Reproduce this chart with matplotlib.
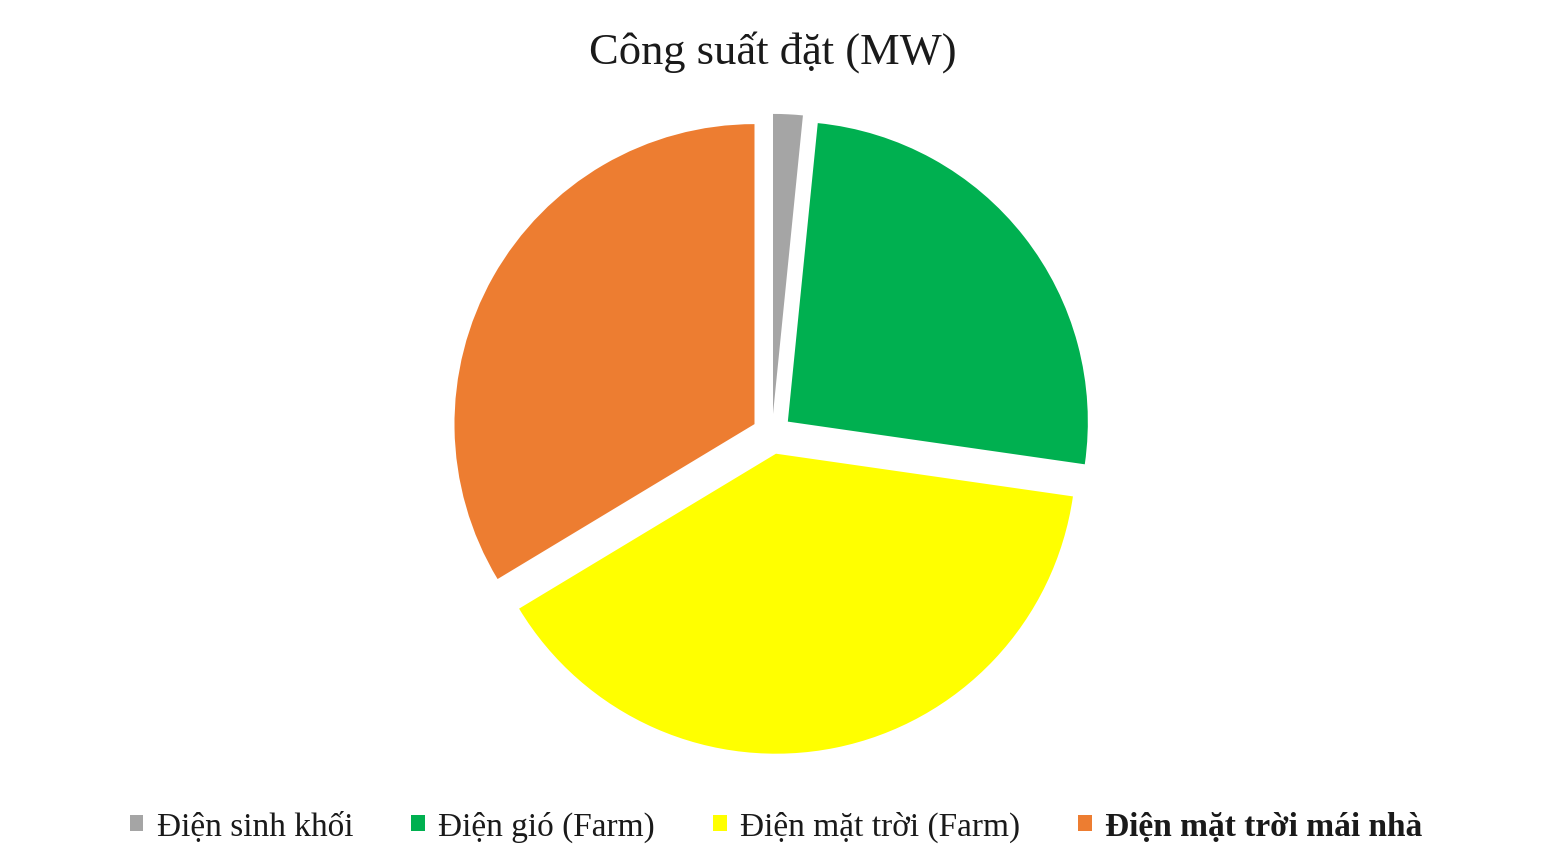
import matplotlib.pyplot as plt
from matplotlib.patches import Patch

plt.rcParams['font.family'] = ['Liberation Serif', 'DejaVu Serif']

# du lieu cong suat dat (MW) - uoc luong tu hinh
labels = ['Điện sinh khối', 'Điện gió (Farm)', 'Điện mặt trời (Farm)', 'Điện mặt trời mái nhà']
values = [350, 5650, 8600, 7400]
colors = ['#A5A5A5', '#00B050', '#FFFF00', '#ED7D31']

fig = plt.figure(figsize=(15.46, 8.62), dpi=100)
ax = fig.add_axes([0, 0, 1, 1])

ax.pie(values, colors=colors, startangle=90, counterclock=False,
       explode=[0.067] * 4, radius=1, wedgeprops=dict(linewidth=0))

# 1 don vi = 300 px, tam o (772, 435) px
ax.set_xlim(-772 / 300, (1546 - 772) / 300)
ax.set_ylim(-(862 - 435) / 300, 435 / 300)
ax.set_aspect('equal', adjustable='datalim')
ax.axis('off')

fig.text(0.5, 0.94, 'Công suất đặt (MW)', ha='center', va='center',
         fontsize=32, color='#1a1a1a')

handles = [Patch(facecolor=c, edgecolor='none') for c in colors]
leg = fig.legend(handles, labels, loc='center', bbox_to_anchor=(0.502, 0.04),
                 ncol=4, frameon=False, fontsize=24, handlelength=0.4,
                 handleheight=0.4, handletextpad=0.4, columnspacing=1.75)
for t in leg.get_texts():
    t.set_color('#1a1a1a')
leg.get_texts()[3].set_fontweight('bold')

fig.savefig('out.png', dpi=100)
